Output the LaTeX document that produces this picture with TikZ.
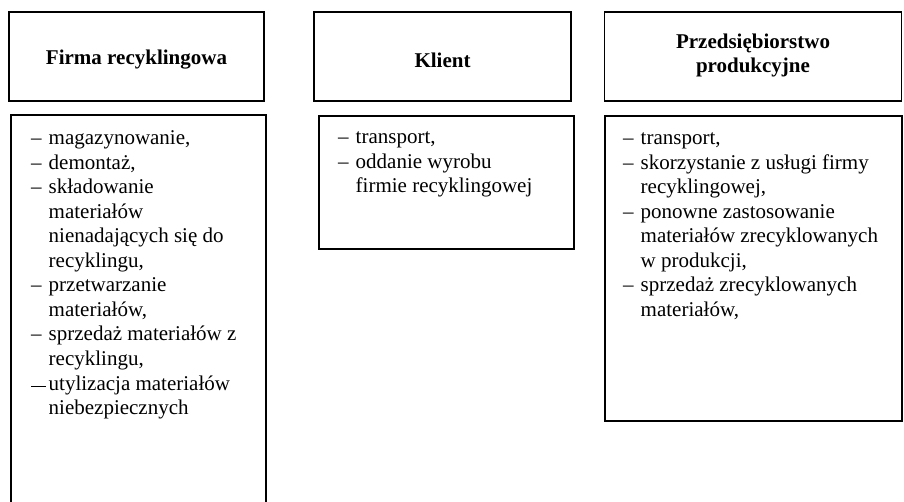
\documentclass[tikz,border=0pt]{standalone}
\usepackage{fontspec}
\setmainfont{Liberation Serif}
\newcommand\itm[1]{\makebox[17.5pt][l]{–}#1}
\newcommand\cnt[1]{\hspace*{17.5pt}#1}
\begin{document}
\begin{tikzpicture}[x=1pt,y=-1pt,
  frame/.style={draw=black, line width=1.3pt, inner sep=0pt},
  hdrtext/.style={font=\fontsize{21}{24}\selectfont\bfseries, align=center, inner sep=0pt},
  bodytext/.style={font=\fontsize{21}{24.5}\selectfont, inner sep=0pt, anchor=base west}]
\clip (0,0) rectangle (904,502);
% headers
\node[frame, minimum width=255pt, minimum height=89pt] (h1) at (136.5,56.5) {};
\node[frame, minimum width=257pt, minimum height=89pt] (h2) at (442.5,56.5) {};
\node[frame, minimum width=297pt, minimum height=89pt] (h3) at (753,56.5) {};
\node[hdrtext] (h1t) at ([yshift=-3pt]h1.center) {Firma recyklingowa};
\node[hdrtext] (h2t) at ([yshift=-3.5pt]h2.center) {Klient};
\node[hdrtext] (h3t) at ([yshift=1.5pt]h3.center) {Przedsiębiorstwo\\produkcyjne};
% bodies
\node[frame, minimum width=255pt, minimum height=420pt] (b1) at (138.5,325) {};
\node[frame, minimum width=255pt, minimum height=133pt] (b2) at (446.5,182.5) {};
\node[frame, minimum width=297pt, minimum height=305pt] (b3) at (753.5,268.5) {};
% body texts
\node[bodytext] (t1) at (31,145) {\begin{tabular}[t]{@{}l@{}}
\itm{magazynowanie,}\\
\itm{demontaż,}\\
\itm{składowanie}\\
\cnt{materiałów}\\
\cnt{nienadających się do}\\
\cnt{recyklingu,}\\
\itm{przetwarzanie}\\
\cnt{materiałów,}\\
\itm{sprzedaż materiałów z}\\
\cnt{recyklingu,}\\[0.5pt]
\makebox[17.5pt][l]{\raisebox{3.5pt}{\rule{15pt}{0.9pt}}}utylizacja materiałów\\
\cnt{niebezpiecznych}
\end{tabular}};
\node[bodytext] (t2) at (338,144) {\begin{tabular}[t]{@{}l@{}}
\itm{transport,}\\
\itm{oddanie wyrobu}\\
\cnt{firmie recyklingowej}
\end{tabular}};
\node[bodytext] (t3) at (623,145) {\begin{tabular}[t]{@{}l@{}}
\itm{transport,}\\
\itm{skorzystanie z usługi firmy}\\
\cnt{recyklingowej,}\\
\itm{ponowne zastosowanie}\\
\cnt{materiałów zrecyklowanych}\\
\cnt{w produkcji,}\\
\itm{sprzedaż zrecyklowanych}\\
\cnt{materiałów,}
\end{tabular}};
\end{tikzpicture}
\end{document}
